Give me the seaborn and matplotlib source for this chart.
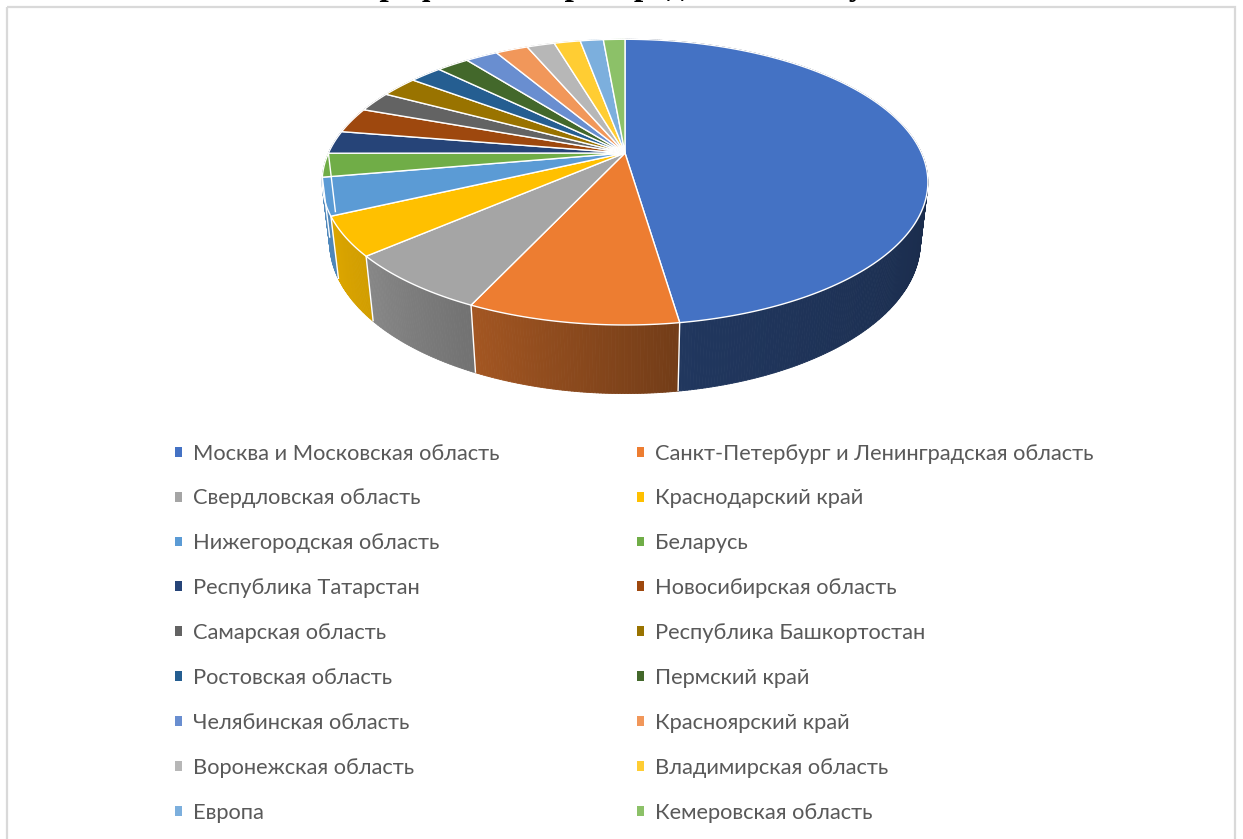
import numpy as np
import matplotlib
matplotlib.use("Agg")
import matplotlib.pyplot as plt
import seaborn as sns
from matplotlib.patches import Patch, Rectangle, Polygon
from matplotlib.collections import PolyCollection

# Shares of customers by region, %
regions = [
    "Москва и Московская область",
    "Санкт-Петербург и Ленинградская область",
    "Свердловская область",
    "Краснодарский край",
    "Нижегородская область",
    "Беларусь",
    "Республика Татарстан",
    "Новосибирская область",
    "Самарская область",
    "Республика Башкортостан",
    "Ростовская область",
    "Пермский край",
    "Челябинская область",
    "Красноярский край",
    "Воронежская область",
    "Владимирская область",
    "Европа",
    "Кемеровская область",
]
shares = [47.6, 9.3, 6.7, 4.4, 4.2, 2.7, 2.6, 2.9, 2.3, 2.4,
          2.1, 2.1, 2.1, 2.1, 1.8, 1.7, 1.5, 1.4]
slice_colors = [
    "#4472C4", "#ED7D31", "#A5A5A5", "#FFC000", "#5B9BD5", "#70AD47",
    "#264478", "#9E480E", "#636363", "#997300", "#255E91", "#43682B",
    "#698ED0", "#F1975A", "#B7B7B7", "#FFCD33", "#7CAFDD", "#8CC168",
]
title = "Географическое распределение покупателей"

sns.set_theme(style="white")
plt.rcParams["font.family"] = ["Lato", "DejaVu Sans"]
palette = sns.color_palette(slice_colors)

W, H = 1243, 839
fig = plt.figure(figsize=(W / 100, H / 100), dpi=100)
ax = fig.add_axes([0, 0, 1, 1])
ax.set_xlim(0, W)
ax.set_ylim(H, 0)
ax.axis("off")

# Perspective view of a flat disc (3-D pie)
CX, CY = 625.0, 153.0
K = 296.5
ELEV = np.radians(27.5)
DIST = 4.35
THICK = 0.23


def project(theta_deg, r=1.0, h=0.0):
    th = np.radians(theta_deg)
    X = r * np.sin(th)
    Z = -r * np.cos(th)
    v = h * np.cos(ELEV) - Z * np.sin(ELEV)
    w = h * np.sin(ELEV) + Z * np.cos(ELEV)
    s = DIST / (DIST - w)
    return CX + K * X * s, CY - K * v * s, w


def shade(theta):
    return np.interp(theta, [80, 100, 171, 205, 229, 250, 280],
                     [0.36, 0.38, 0.48, 0.69, 0.82, 0.88, 0.9])


vals = np.array(shares, dtype=float)
angles = np.concatenate([[0.0], np.cumsum(vals) / vals.sum() * 360.0])

# side walls, painted back to front
quads, qcols, depth = [], [], []
for i in range(len(vals)):
    a0, a1 = angles[i], angles[i + 1]
    n = max(4, int((a1 - a0) / 0.5))
    ts = np.linspace(a0, a1, n + 1)
    base = np.array(palette[i])
    for t0, t1 in zip(ts[:-1], ts[1:]):
        x0, y0, w0 = project(t0)
        x1, y1, w1 = project(t1)
        x2, y2, _ = project(t1, h=-THICK)
        x3, y3, _ = project(t0, h=-THICK)
        quads.append([(x0, y0), (x1, y1), (x2, y2), (x3, y3)])
        qcols.append(np.clip(base * shade(0.5 * (t0 + t1)), 0, 1))
        depth.append(0.5 * (w0 + w1))
order = np.argsort(depth)
side = PolyCollection([quads[k] for k in order],
                      facecolors=[qcols[k] for k in order],
                      edgecolors=[qcols[k] for k in order], linewidths=0.6)
ax.add_collection(side)

# white seams on the visible walls
for a in angles[1:-1]:
    if 85 < a < 275:
        x0, y0, _ = project(a)
        x1, y1, _ = project(a, h=-THICK)
        ax.plot([x0, x1], [y0, y1], color="white", lw=1.0, solid_capstyle="butt")

# top faces
for i in range(len(vals)):
    a0, a1 = angles[i], angles[i + 1]
    ts = np.linspace(a0, a1, max(3, int((a1 - a0) / 0.5)) + 1)
    pts = [(CX, CY)] + [project(t)[:2] for t in ts]
    ax.add_patch(Polygon(pts, closed=True, facecolor=palette[i],
                         edgecolor="white", linewidth=1.0, joinstyle="round"))

# chart frame
ax.add_patch(Rectangle((7.5, 6.5), 1228, 860, fill=False,
                       edgecolor="#D9D9D9", linewidth=1.6, clip_on=False))

# title (sits above the frame)
fig.text(649 / W, 1 + 5 / H, title, ha="center", va="baseline",
         fontfamily="Liberation Serif", fontweight="bold", fontsize=24,
         color="black")

# legend, filled row by row
handles = [Patch(facecolor=palette[i], edgecolor="none") for i in range(len(regions))]
idx = list(range(0, len(regions), 2)) + list(range(1, len(regions), 2))
leg = fig.legend([handles[i] for i in idx], [regions[i] for i in idx],
                 ncol=2, loc="upper left", bbox_to_anchor=(175 / W, 1 - 443.5 / H),
                 frameon=False, fontsize=15.75, labelcolor="#595959",
                 handlelength=0.32, handleheight=0.32, handletextpad=0.5,
                 columnspacing=6.30, labelspacing=1.14, borderpad=0,
                 borderaxespad=0)

fig.savefig("out.png", dpi=100)
